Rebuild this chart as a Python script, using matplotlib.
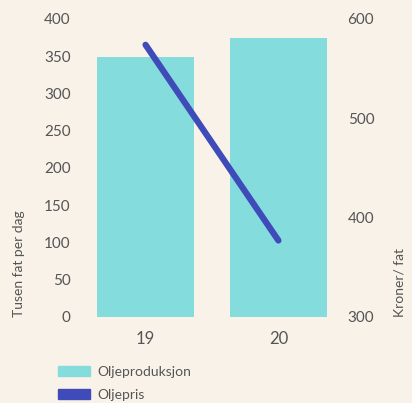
import matplotlib.pyplot as plt
from matplotlib.patches import Patch

plt.rcParams['font.family'] = ['Lato', 'DejaVu Sans']

# data
years = ['19', '20']
production = [349, 375]   # tusen fat per dag
price = [574, 377]        # kroner per fat

bg = '#f9f2e9'
bar_color = '#84dcdc'
line_color = '#3f4bb9'
text_color = '#555555'

fig = plt.figure(figsize=(4.12, 4.03), dpi=100, facecolor=bg)
ax = fig.add_axes([0.192, 0.2134, 0.645, 0.7396], facecolor=bg)
x = list(range(len(years)))

ax.bar(x, production, width=0.73, color=bar_color, zorder=2)
ax.set_xlim(-0.5, 1.5)
ax.set_ylim(0, 400)
ax.set_yticks(range(0, 401, 50))
ax.set_xticks(x)
ax.set_xticklabels(years, fontsize=12, color=text_color)
ax.tick_params(axis='y', length=0, pad=6, labelsize=11, labelcolor=text_color)
ax.tick_params(axis='x', length=0, pad=10)
ax.set_ylabel('Tusen fat per dag', fontsize=10, color=text_color, loc='bottom', labelpad=14)
for s in ax.spines.values():
    s.set_visible(False)

ax2 = ax.twinx()
ax2.plot(x, price, color=line_color, linewidth=4.5, solid_capstyle='round', zorder=3)
ax2.set_ylim(300, 600)
ax2.set_yticks(range(300, 601, 100))
ax2.tick_params(axis='y', length=0, pad=2, labelsize=11, labelcolor=text_color)
ax2.set_ylabel('Kroner/ fat', fontsize=10, color=text_color, loc='bottom', labelpad=14)
for s in ax2.spines.values():
    s.set_visible(False)

handles = [Patch(color=bar_color), Patch(color=line_color)]
fig.legend(handles, ['Oljeproduksjon', 'Oljepris'], loc='upper left',
           bbox_to_anchor=(0.125, 0.11), frameon=False, fontsize=10,
           labelcolor=text_color, handlelength=2.3, handleheight=0.8,
           labelspacing=0.8, handletextpad=0.5, borderpad=0)

fig.savefig('out.png', dpi=100, facecolor=bg)
